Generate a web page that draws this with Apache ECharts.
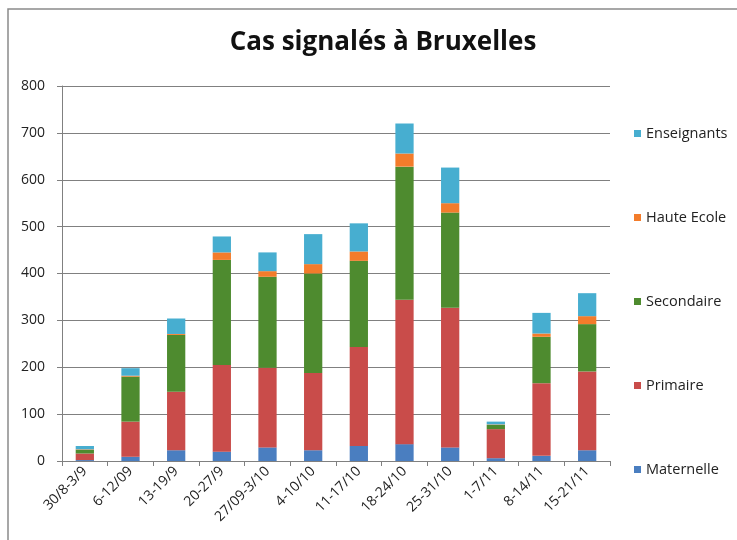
<html>
<head>
    <meta charset="utf-8">
    <title>Cas signalés à Bruxelles</title>
    <script src="https://cdn.jsdelivr.net/npm/echarts@6/dist/echarts.min.js"></script>
    <style>
        body { margin: 0; background: #fff; }
    </style>
</head>
<body>
    <div id="chartmain" style="width:737px; height:540px;"></div>

    <script type="text/javascript">
        var semaines = ['30/8-3/9', '6-12/09', '13-19/9', '20-27/9', '27/09-3/10', '4-10/10',
            '11-17/10', '18-24/10', '25-31/10', '1-7/11', '8-14/11', '15-21/11'];
        var maternelle = [2, 9, 23, 20, 29, 23, 32, 36, 29, 6, 11, 23];
        var primaire = [14, 75, 125, 185, 170, 165, 211, 308, 298, 62, 155, 168];
        var secondaire = [8, 96, 121, 224, 194, 212, 184, 284, 203, 9, 99, 101];
        var hauteEcole = [1, 2, 2, 16, 12, 20, 20, 28, 20, 1, 7, 17];
        var enseignants = [7, 16, 33, 34, 40, 64, 60, 64, 76, 6, 44, 49];

        var police = 'Open Sans';
        var myChart = echarts.init(document.getElementById('chartmain'));

        function serie(nom, data, couleur) {
            return {
                name: nom,
                type: 'bar',
                stack: 'total',
                barWidth: '40%',
                itemStyle: { color: couleur },
                data: data
            };
        }

        myChart.setOption({
            backgroundColor: '#fff',
            animation: false,
            title: {
                text: 'Cas signalés à Bruxelles',
                left: 378,
                top: 25,
                textAlign: 'center',
                textStyle: { fontFamily: police, fontSize: 26, fontWeight: 'bold', color: '#111' }
            },
            graphic: [{
                type: 'rect',
                shape: { x: 8, y: 9, width: 760, height: 560 },
                style: { fill: 'none', stroke: '#8a8a8a', lineWidth: 1.5 }
            }],
            legend: {
                orient: 'vertical',
                left: 629,
                top: 121,
                itemGap: 69,
                itemWidth: 7,
                itemHeight: 7,
                icon: 'rect',
                data: ['Enseignants', 'Haute Ecole', 'Secondaire', 'Primaire', 'Maternelle'],
                textStyle: { fontFamily: police, fontSize: 14.5, color: '#222', lineHeight: 13 }
            },
            grid: { left: 62, right: 127, top: 86, bottom: 79 },
            xAxis: {
                type: 'category',
                data: semaines,
                axisLine: { lineStyle: { color: '#808080' } },
                axisTick: { show: true, length: 5, lineStyle: { color: '#808080' } },
                axisLabel: { rotate: 45, interval: 0, fontFamily: police, fontSize: 14, color: '#222', margin: 8 }
            },
            yAxis: {
                type: 'value',
                min: 0,
                max: 800,
                interval: 100,
                axisLine: { show: true, lineStyle: { color: '#808080' } },
                axisTick: { show: true, length: 5, lineStyle: { color: '#808080' } },
                axisLabel: { fontFamily: police, fontSize: 14, color: '#222', margin: 17 },
                splitLine: { lineStyle: { color: '#808080', width: 1 } }
            },
            series: [
                serie('Maternelle', maternelle, '#4a7ec0'),
                serie('Primaire', primaire, '#c94c4a'),
                serie('Secondaire', secondaire, '#4e8b2f'),
                serie('Haute Ecole', hauteEcole, '#f37c2b'),
                serie('Enseignants', enseignants, '#47aed0')
            ]
        });
    </script>
</body>
</html>
